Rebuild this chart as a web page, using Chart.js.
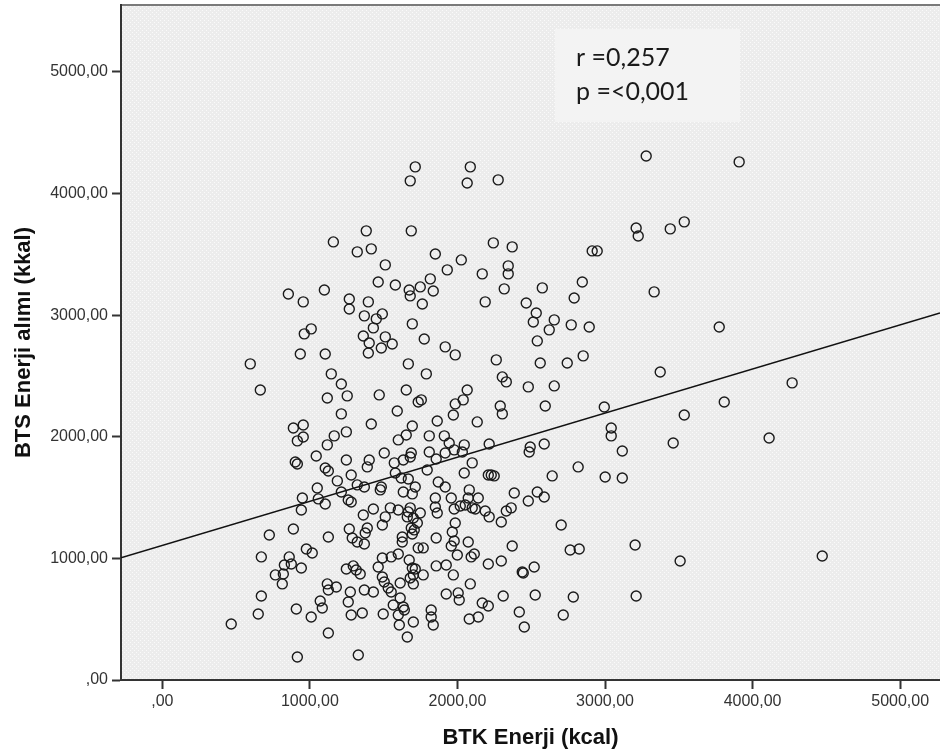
<!DOCTYPE html>
<html>
<head>
<meta charset="utf-8">
<script src="https://cdn.jsdelivr.net/npm/chart.js@4.4.0/dist/chart.umd.min.js"></script>
<style>
  html, body { margin: 0; padding: 0; background: #fff; }
  #grafica { display: block; }
</style>
</head>
<body>
<canvas id="grafica" width="940" height="756"></canvas>
<script>
// BTK enerji (x) / BTS enerji alimi (y)
let btkEnerji = [
  1714,1680,2087,2066,2276,3279,3909,1382,1687,1159,1321,1416,1850,1511,1931,1816,1463,1579,1673,1748,
  1836,1680,1762,854,955,1098,1267,1267,1396,1369,1491,1450,1430,1694,1775,1917,962,1009,1362,1511,
  1402,1558,3211,3225,3442,3537,2243,2371,2913,2947,2026,2168,2344,2344,2317,2575,2846,2791,3333,2188,
  2466,2534,2514,2656,2622,2771,2893,2541,3774,935,1104,1396,596,1145,1213,664,1118,1253,1470,1213,
  1416,888,955,955,915,1165,1247,1118,1043,901,915,1247,1402,1389,1104,1125,1280,1186,1321,1369,
  1050,1213,949,1057,1104,1260,1280,942,1362,888,725,1125,1267,1287,1389,1375,1369,1321,671,976,
  1016,860,827,874,942,766,820,813,1247,1294,1314,1341,1118,1125,1179,1274,1369,671,1070,1084,
  1260,908,650,1009,1280,1355,467,1125,915,1328,1430,1484,1985,2263,2561,1667,1789,2304,2331,2480,
  2656,2066,1653,1734,1755,2039,1985,2290,2304,2595,1592,1972,1863,2134,1694,1653,1809,1911,1599,1944,
  2046,2215,2493,2486,2588,1504,1687,1809,1917,1978,2033,1856,1680,1633,1572,2100,1795,2046,1579,1619,
  1667,2209,2229,2249,2642,1484,1477,1870,1917,1714,1633,1694,2080,2385,2541,2588,2480,1850,1958,2073,
  2141,2053,1850,1863,1978,2019,2100,2121,2188,2215,2297,2331,2364,2703,1545,1599,1511,1491,1667,1680,
  1748,1660,1701,1728,1687,1707,1694,1985,1965,1978,1958,1856,1626,1626,2073,2371,1734,1768,1999,2093,
  2114,1599,1551,1491,1673,1694,1714,1768,1701,1680,1701,1856,1924,1972,2209,2297,2439,2446,2520,1463,
  1491,1504,1531,1551,1430,1612,2087,1924,2005,2012,2310,2527,1612,1565,1633,1640,1497,1599,1606,1701,
  1822,1822,1836,1660,2168,2209,2080,2141,2419,2453,2717,2852,2744,2995,3042,3042,3117,3001,3117,2818,
  3204,3211,2764,2825,2785,3509,4472,3374,3537,3462,3808,4268,4112
];
let btsEnerji = [
  4219,4104,4219,4087,4112,4309,4260,3693,3693,3602,3520,3545,3503,3413,3372,3298,3273,3248,3207,3232,
  3199,3158,3092,3174,3109,3207,3133,3051,3109,2994,3010,2969,2895,2928,2804,2739,2846,2887,2829,2821,
  2771,2763,3717,3651,3709,3767,3594,3561,3528,3528,3454,3339,3405,3339,3216,3224,3273,3141,3191,3109,
  3100,3018,2944,2961,2879,2920,2903,2788,2903,2681,2681,2689,2599,2517,2434,2385,2319,2336,2344,2188,
  2105,2072,2097,1998,1966,2007,2040,1933,1842,1793,1776,1809,1809,1752,1743,1719,1686,1637,1604,1587,
  1579,1546,1497,1489,1447,1480,1464,1398,1357,1242,1192,1176,1242,1168,1250,1209,1118,1135,1012,1077,
  1044,1012,946,954,921,864,872,790,913,938,905,872,790,740,765,724,740,691,650,592,
  641,584,543,518,535,551,461,387,189,206,1406,2730,2673,2632,2607,2599,2517,2492,2451,2410,
  2418,2385,2385,2286,2303,2303,2270,2253,2188,2253,2212,2179,2130,2122,2089,2015,2007,2007,1974,1949,
  1933,1941,1916,1875,1941,1867,1867,1875,1867,1892,1875,1817,1834,1809,1785,1785,1727,1702,1702,1661,
  1653,1686,1686,1678,1678,1587,1563,1628,1587,1587,1546,1530,1563,1538,1546,1505,1472,1497,1497,1497,
  1497,1439,1423,1373,1406,1431,1415,1406,1390,1341,1299,1390,1415,1275,1415,1398,1341,1275,1382,1415,
  1373,1341,1332,1291,1250,1234,1201,1291,1217,1143,1102,1168,1176,1135,1135,1102,1086,1086,1028,1012,
  1036,1036,1012,1003,987,921,913,864,864,839,790,938,946,864,954,979,888,880,929,929,
  847,806,757,724,724,798,790,707,716,658,691,699,674,617,600,576,543,535,452,477,
  576,518,452,354,633,609,502,518,559,436,535,2665,2607,2245,2072,2007,1883,1669,1661,1752,
  1110,691,1069,1077,683,979,1020,2533,2179,1949,2286,2443,1990
];
// fit line ends at the plot edges
let regresionX = [-280, 5270];
let regresionY = [1005, 3018];
let marcasX = [0, 1000, 2000, 3000, 4000, 5000];
let marcasY = [0, 1000, 2000, 3000, 4000, 5000];
let textoCuadro = ['r =0,257', 'p =<0,001'];

let canvas, grafica, patron;
let fuente = '"Liberation Sans", Arial, sans-serif';

function formato(v){
  return v === 0 ? ',00' : v + ',00';
}

function crearPatron(ctx){
  let c = document.createElement('canvas');
  c.width = 4;
  c.height = 4;
  let g = c.getContext('2d');
  g.fillStyle = '#ececec';
  g.fillRect(0, 0, 4, 4);
  g.fillStyle = '#fafafa';
  g.fillRect(0, 0, 1, 1);
  g.fillRect(2, 2, 1, 1);
  return ctx.createPattern(c, 'repeat');
}

let fondo = {
  id: 'fondo',
  beforeDraw(chart){
    let ctx = chart.ctx;
    let a = chart.chartArea;
    ctx.save();
    ctx.fillStyle = patron;
    ctx.fillRect(a.left, a.top, a.right - a.left, a.bottom - a.top);
    ctx.strokeStyle = '#7a7a7a';
    ctx.lineWidth = 2;
    ctx.beginPath();
    ctx.moveTo(a.left, a.top);
    ctx.lineTo(a.right, a.top);
    ctx.stroke();
    ctx.restore();
  },
  beforeDatasetsDraw(chart){
    let ctx = chart.ctx;
    ctx.save();
    ctx.fillStyle = '#f3f3f3';
    ctx.fillRect(555, 29, 185, 93);
    ctx.fillStyle = '#1a1a1a';
    ctx.font = '25px Lato, "Open Sans", sans-serif';
    ctx.textBaseline = 'alphabetic';
    ctx.fillText(textoCuadro[0], 576, 66);
    ctx.fillText(textoCuadro[1], 576, 100);
    ctx.restore();
  }
};

function sinRelleno(s){
  s.paddingTop = 0;
  s.paddingBottom = 0;
  s.paddingLeft = 0;
  s.paddingRight = 0;
}

function setData(){
  let puntos = btkEnerji.map((x, i) => ({x: x, y: btsEnerji[i]}));
  let linea = regresionX.map((x, i) => ({x: x, y: regresionY[i]}));
  let ejes = {
    grid: {drawOnChartArea: false, drawTicks: true, tickLength: 9, tickColor: '#333', tickWidth: 2},
    border: {color: '#333', width: 2}
  };
  return {
    type: 'scatter',
    data: {
      datasets: [
        {
          data: puntos,
          pointStyle: 'circle',
          pointRadius: 5,
          pointBorderWidth: 1.4,
          borderColor: '#1a1a1a',
          backgroundColor: 'rgba(0,0,0,0)'
        },
        {
          type: 'line',
          data: linea,
          borderColor: '#111',
          borderWidth: 1.6,
          pointRadius: 0,
          fill: false
        }
      ]
    },
    options: {
      responsive: false,
      animation: false,
      devicePixelRatio: 1,
      events: [],
      layout: {autoPadding: false, padding: {top: 5, right: 0, left: 0, bottom: 0}},
      plugins: {legend: {display: false}, tooltip: {enabled: false}},
      scales: {
        x: {
          type: 'linear',
          min: -280,
          max: 5270,
          afterBuildTicks: s => { s.ticks = marcasX.map(v => ({value: v})); },
          afterFit: s => { s.height = 76; sinRelleno(s); },
          grid: ejes.grid,
          border: ejes.border,
          ticks: {color: '#333', font: {family: fuente, size: 16}, padding: 3, maxRotation: 0, callback: formato},
          title: {
            display: true,
            text: 'BTK Enerji (kcal)',
            color: '#111',
            font: {family: fuente, size: 22, weight: 'bold'},
            padding: {top: 4, bottom: 5}
          }
        },
        y: {
          type: 'linear',
          min: 0,
          max: 5550,
          afterBuildTicks: s => { s.ticks = marcasY.map(v => ({value: v})); },
          afterFit: s => { s.width = 121; sinRelleno(s); },
          grid: ejes.grid,
          border: ejes.border,
          ticks: {color: '#333', font: {family: fuente, size: 16}, padding: 4, callback: formato},
          title: {
            display: true,
            text: 'BTS Enerji alımı (kkal)',
            color: '#111',
            font: {family: fuente, size: 22, weight: 'bold'},
            padding: {top: 11, bottom: 0}
          }
        }
      }
    },
    plugins: [fondo]
  };
}

window.onload = () => {
  canvas = document.querySelector('#grafica');
  grafica = canvas.getContext('2d');
  patron = crearPatron(grafica);
  let chart = new Chart(grafica, setData());
};
</script>
</body>
</html>
